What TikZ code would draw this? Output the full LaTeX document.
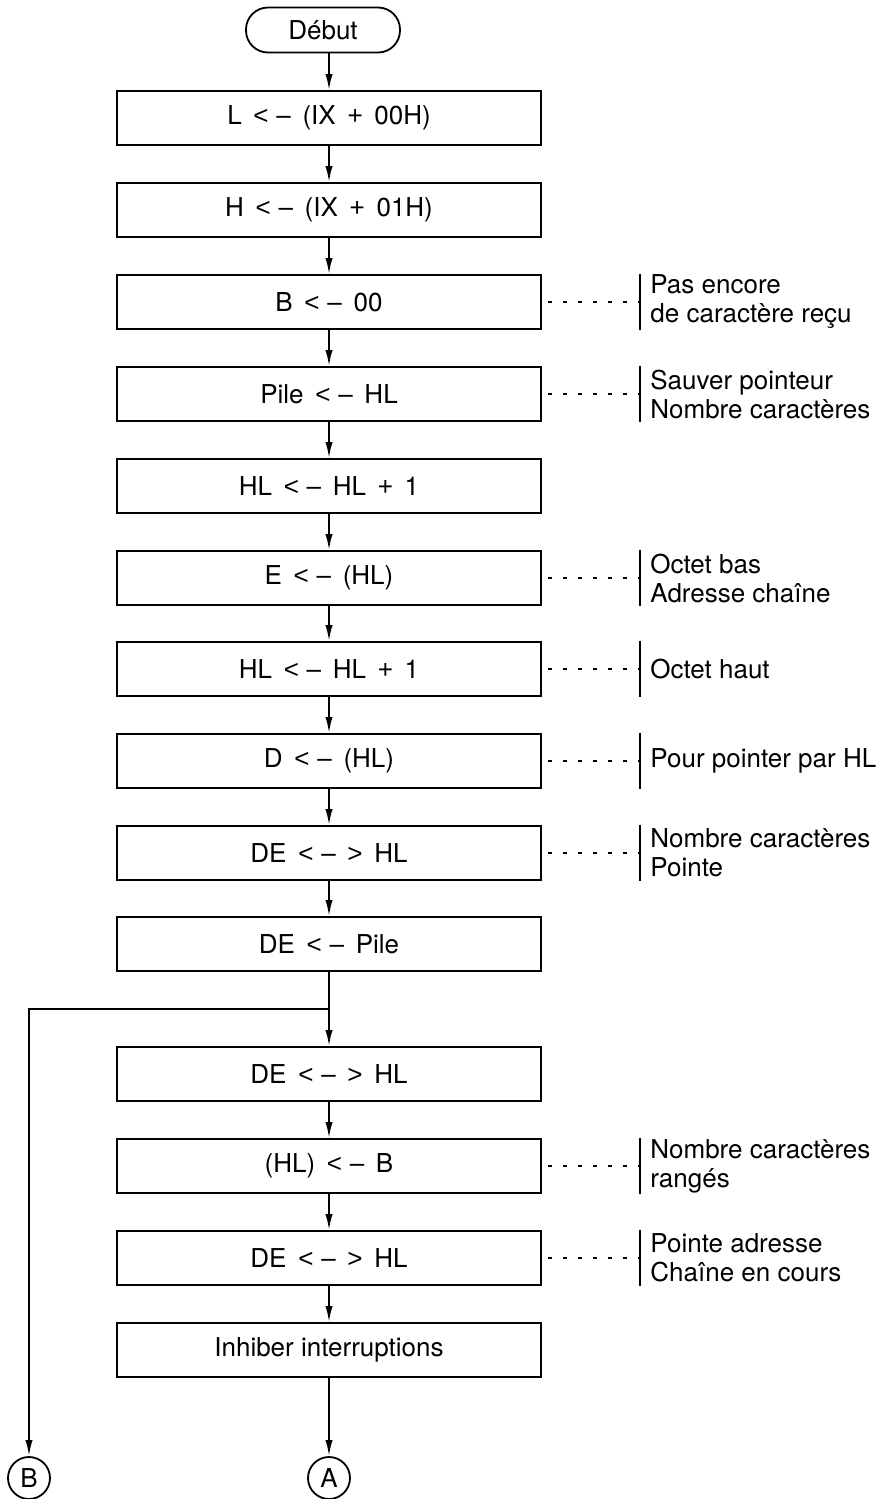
\documentclass[tikz,border=0pt]{standalone}
\usepackage{fontspec}
\setmainfont{TeX Gyre Heros}
\newfontfamily\symb{Liberation Sans}
\usetikzlibrary{arrows.meta}
\newcommand{\txt}{\fontsize{13}{14.5}\selectfont}
\newcommand{\btxt}{\txt\spaceskip=0.45em plus 0.1em\relax}
\newcommand{\fl}{{\symb<}\hspace{0.3em}–}
\newcommand{\fr}{{\symb>}}
\newcommand{\pl}{{\symb+}}
\tikzset{
  fleche/.style={-{Latex[length=8pt,width=3.6pt]},line width=0.9pt},
  trait/.style={line width=0.9pt},
  pointille/.style={line width=0.8pt,dash pattern=on 2pt off 5.5pt,dash phase=-3pt},
  boite/.style={draw,line width=0.9pt,minimum width=212pt,minimum height=27pt,inner sep=0pt,font=\btxt},
  terminal/.style={draw,line width=0.9pt,rounded corners=11pt,minimum width=77pt,minimum height=22.5pt,inner sep=0pt,font=\txt},
  renvoi/.style={draw,circle,line width=0.9pt,minimum size=21pt,inner sep=0pt,font=\txt},
  note/.style={anchor=west,align=left,minimum height=28pt,inner xsep=5pt,inner ysep=0pt,font=\txt},
}
\begin{document}
\begin{tikzpicture}[x=0.5pt,y=-0.5pt]
  \useasboundingbox (0,0) rectangle (892,1499);
  % organigramme
  \node[terminal] (debut) at (323,30) {Début};
  \node[boite] (b1) at (329,118) {L \fl{} (IX \pl{} 00H)};
  \node[boite] (b2) at (329,210) {H \fl{} (IX \pl{} 01H)};
  \node[boite] (b3) at (329,302) {B \fl{} 00};
  \node[boite] (b4) at (329,394) {Pile \fl{} HL};
  \node[boite] (b5) at (329,486) {HL \fl{} HL \pl{} 1};
  \node[boite] (b6) at (329,578) {E \fl{} (HL)};
  \node[boite] (b7) at (329,669) {HL \fl{} HL \pl{} 1};
  \node[boite] (b8) at (329,761) {D \fl{} (HL)};
  \node[boite] (b9) at (329,853) {DE \fl{} \fr{} HL};
  \node[boite] (b10) at (329,944) {DE \fl{} Pile};
  \node[boite] (b11) at (329,1074) {DE \fl{} \fr{} HL};
  \node[boite] (b12) at (329,1166) {(HL) \fl{} B};
  \node[boite] (b13) at (329,1258) {DE \fl{} \fr{} HL};
  \node[boite,font=\txt] (b14) at (329,1350) {Inhiber interruptions};
  \node[renvoi] (rB) at (29,1478) {B};
  \node[renvoi] (rA) at (329,1478) {A};
  \coordinate (j) at (329,1009);
  % liaisons
  \draw[fleche] (debut.south -| b1.north) -- (b1.north);
  \foreach \i/\k in {1/2,2/3,3/4,4/5,5/6,6/7,7/8,8/9,9/10,10/11,11/12,12/13,13/14}
    \draw[fleche] (b\i.south) -- (b\k.north);
  \draw[fleche] (b14.south) -- (rA.north);
  \draw[fleche] (j) -| (rB.north);
  % commentaires
  \node[note] (n3) at (640,302) {Pas encore\\de caractère reçu};
  \node[note] (n4) at (640,394) {Sauver pointeur\\Nombre caractères};
  \node[note] (n6) at (640,578) {Octet bas\\Adresse chaîne};
  \node[note] (n7) at (640,669) {Octet haut};
  \node[note] (n8) at (640,761) {Pour pointer par HL};
  \node[note] (n9) at (640,853) {Nombre caractères\\Pointe};
  \node[note] (n12) at (640,1166) {Nombre caractères\\rangés};
  \node[note] (n13) at (640,1258) {Pointe adresse\\Chaîne en cours};
  \foreach \i in {3,4,6,7,8,9,12,13} {
    \draw[pointille] (b\i.east) -- (n\i.west);
    \draw[trait] (n\i.north west) -- (n\i.south west);
  }
\end{tikzpicture}
\end{document}
